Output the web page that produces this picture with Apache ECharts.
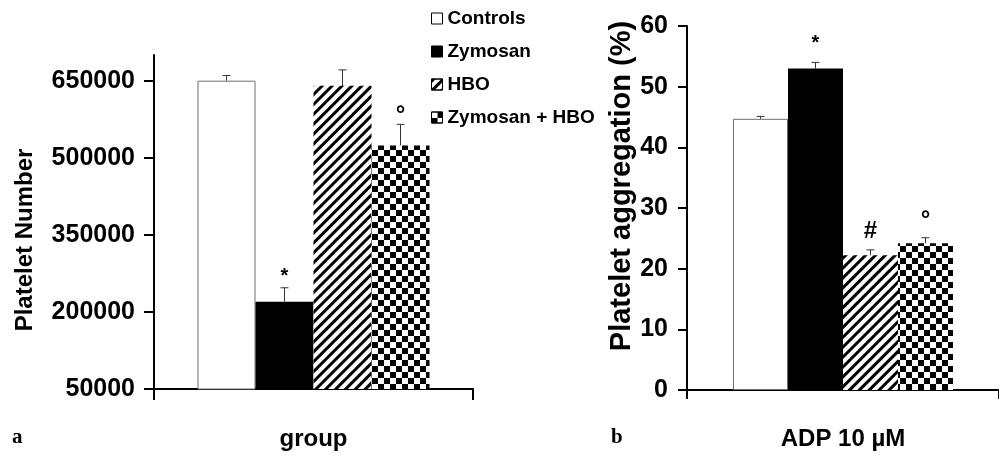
<!DOCTYPE html>
<html>
<head>
<meta charset="utf-8">
<script src="https://cdn.jsdelivr.net/npm/echarts@6/dist/echarts.min.js"></script>
<style>
html,body{margin:0;padding:0;background:#fff;}
#chart{width:999px;height:458px;}
</style>
</head>
<body>
<div id="chart"></div>
<script>
// ---- data ----
const seriesNames = ['Controls', 'Zymosan', 'HBO', 'Zymosan + HBO'];
const leftCategories = ['group'];
const rightCategories = ['ADP 10 µM'];
const plateletNumber = [650000, 220000, 640000, 524000];
const plateletNumberErr = [10000, 27000, 31000, 41000];
const plateletMarks = ['', '*', '', '°'];
const aggregation = [44.7, 53.0, 22.2, 24.2];
const aggregationErr = [0.4, 1.0, 0.9, 0.9];
const aggregationMarks = ['', '*', '#', '°'];
const leftTicks = [50000, 200000, 350000, 500000, 650000];
const rightTicks = [0, 10, 20, 30, 40, 50, 60];

// ---- styles ----
const FONT = 'Liberation Sans, Arial, sans-serif';
const barStyles = [
  { color: '#ffffff', borderColor: '#6e6e6e', borderWidth: 1 },
  { color: '#000000' },
  { color: '#ffffff', decal: { symbol: 'rect', symbolSize: 1, color: '#000', dashArrayX: [1, 0], dashArrayY: [3, 4], rotation: -Math.PI / 4 } },
  { color: '#ffffff', decal: { symbol: 'rect', symbolSize: 1, color: '#000', dashArrayX: [[6, 6], [0, 6, 6, 0]], dashArrayY: [6, 0] } }
];
const LEFT_BAR_W = 58, RIGHT_BAR_W = 55;

function barSeries(values, xi, bw) {
  return seriesNames.map((n, i) => ({
    type: 'bar', name: n, xAxisIndex: xi, yAxisIndex: xi,
    data: [values[i]], barWidth: bw, barGap: '0%', clip: true,
    itemStyle: barStyles[i], emphasis: { disabled: true }
  }));
}

function errSeries(values, errs, marks, xi, bw, gap, capW) {
  return {
    type: 'custom', xAxisIndex: xi, yAxisIndex: xi, clip: false, z: 5,
    data: values.map((v, i) => [0, v, errs[i], i]),
    encode: { x: 0, y: 1 },
    renderItem: function (params, api) {
      const v = api.value(1), e = api.value(2), idx = api.value(3);
      const base = api.coord([0, v]);
      const top = api.coord([0, v + e]);
      const x = base[0] + (idx - 1.5) * bw;
      const ls = { stroke: '#333', lineWidth: 1 };
      const children = [
        { type: 'line', shape: { x1: x, y1: base[1], x2: x, y2: top[1] }, style: ls },
        { type: 'line', shape: { x1: x - capW, y1: top[1], x2: x + capW, y2: top[1] }, style: ls }
      ];
      const m = marks[idx];
      if (m) {
        const isDeg = m === '°';
        const size = m === '#' ? 24 : (isDeg ? 24 : 20);
        children.push({
          type: 'text',
          style: {
            x: x, y: top[1] - gap + (isDeg ? 4 : 0) + (m === '#' ? 3 : 0) + (m === '*' ? 2 : 0), text: m,
            fill: '#000', font: 'bold ' + size + 'px ' + FONT,
            align: 'center', verticalAlign: 'middle'
          }
        });
      }
      return { type: 'group', children: children };
    }
  };
}

const axisLineStyle = { color: '#000', width: 2 };
const labelStyle = { color: '#000', fontSize: 24, fontWeight: 'bold', fontFamily: FONT };
const plain = v => String(v);

const option = {
  animation: false,
  aria: { enabled: true, decal: { show: false } },
  textStyle: { fontFamily: FONT },
  title: [
    { text: 'a', left: 12, top: 427, padding: 0, textStyle: { fontFamily: 'Liberation Serif', fontWeight: 'bold', fontSize: 21, color: '#000' } },
    { text: 'b', left: 611, top: 427, padding: 0, textStyle: { fontFamily: 'Liberation Serif', fontWeight: 'bold', fontSize: 21, color: '#000' } }
  ],
  legend: {
    data: seriesNames.map(n => ({ name: n, itemStyle: { borderColor: '#000', borderWidth: 1 } })),
    orient: 'vertical', left: 431, top: 9, padding: 0,
    itemWidth: 11, itemHeight: 11, itemGap: 14, icon: 'rect',
    textStyle: { fontSize: 19, fontWeight: 'bold', color: '#000', fontFamily: FONT },
    selectedMode: false
  },
  grid: [
    { left: 154, top: 55, width: 319, height: 334 },
    { left: 687, top: 26, width: 320, height: 364 }
  ],
  xAxis: [
    { type: 'category', gridIndex: 0, data: leftCategories,
      axisLine: { lineStyle: axisLineStyle },
      axisTick: { show: true, interval: 0, alignWithLabel: false, length: 11, lineStyle: { color: '#000', width: 2 } },
      axisLabel: Object.assign({ margin: 38 }, labelStyle) },
    { type: 'category', gridIndex: 1, data: rightCategories,
      axisLine: { lineStyle: axisLineStyle },
      axisTick: { show: true, interval: 0, alignWithLabel: false, length: 9, lineStyle: { color: '#000', width: 2 } },
      axisLabel: Object.assign({ margin: 37 }, labelStyle) }
  ],
  yAxis: [
    { type: 'value', gridIndex: 0, min: 50000, max: 700000,
      axisLine: { show: true, lineStyle: axisLineStyle },
      axisTick: { show: true, length: 10, customValues: leftTicks, lineStyle: { color: '#000', width: 2 } },
      axisLabel: Object.assign({ margin: 19, customValues: leftTicks, formatter: plain }, labelStyle, { fontSize: 25 }),
      splitLine: { show: false },
      name: 'Platelet Number', nameLocation: 'middle', nameRotate: 90, nameGap: 117,
      nameTextStyle: { color: '#000', fontSize: 24, fontWeight: 'bold', fontFamily: FONT, padding: [0, 36, 0, 0] } },
    { type: 'value', gridIndex: 1, min: 0, max: 60, interval: 10,
      axisLine: { show: true, lineStyle: axisLineStyle },
      axisTick: { show: true, length: 9, customValues: rightTicks, lineStyle: { color: '#000', width: 2 } },
      axisLabel: Object.assign({ margin: 19, customValues: rightTicks, formatter: plain }, labelStyle, { fontSize: 25 }),
      splitLine: { show: false },
      name: 'Platelet aggregation (%)', nameLocation: 'middle', nameRotate: 90, nameGap: 46,
      nameTextStyle: { color: '#000', fontSize: 29, fontWeight: 'bold', fontFamily: FONT, padding: [0, 0, 0, 44] } }
  ],
  series: [].concat(
    barSeries(plateletNumber, 0, LEFT_BAR_W),
    barSeries(aggregation, 1, RIGHT_BAR_W),
    [errSeries(plateletNumber, plateletNumberErr, plateletMarks, 0, LEFT_BAR_W, 13, 4),
     errSeries(aggregation, aggregationErr, aggregationMarks, 1, RIGHT_BAR_W, 21, 4)]
  )
};

const chart = echarts.init(document.getElementById('chart'), null, { renderer: 'canvas' });
chart.setOption(option);
</script>
</body>
</html>
